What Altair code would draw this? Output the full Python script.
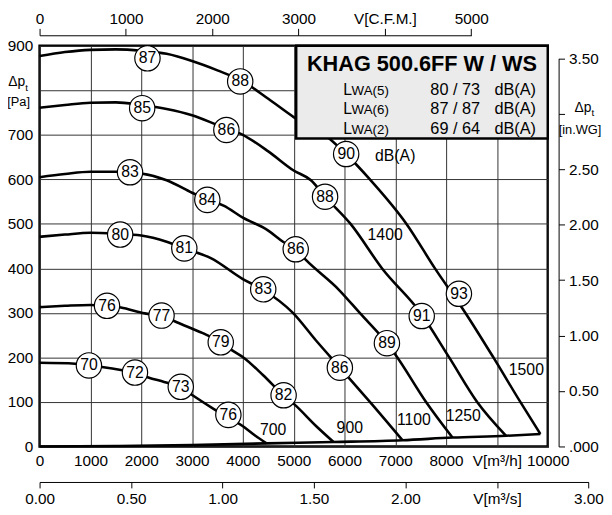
import altair as alt
import pandas as pd

FONT = "Liberation Sans"
W, H = 515, 406                 # plot area (px)
CFM_TO_M3H = 1.69901
PA_PER_INWG = 249.089

# ---------------- fan curves: V [m3/h] vs dp_t [Pa] per speed [rpm] ----------------
speeds = ["1500", "1400", "1250", "1100", "900", "700"]

q_1500 = [0, 500, 1000, 1500, 2000, 2500, 3000, 3500, 4000, 4500, 5000, 5700, 6030, 6500, 7220, 7780, 8380, 8930, 9460, 9855]
p_1500 = [877, 886, 891, 892, 889, 882, 866, 845, 820, 781, 740, 692, 657, 600, 500, 400, 300, 200, 100, 28]

q_1400 = [0, 500, 1000, 1500, 2000, 2500, 3000, 3500, 4000, 4500, 5000, 5340, 5620, 6120, 6740, 7500, 8060, 8610, 9180]
p_1400 = [761, 767, 772, 773, 767, 758, 744, 722, 700, 663, 620, 598, 561, 500, 400, 300, 200, 100, 24]

q_1250 = [0, 500, 1000, 1500, 2000, 2500, 3000, 3300, 3620, 4000, 4500, 4790, 5040, 5240, 5890, 6300, 6835, 7010, 7605, 8125]
p_1250 = [605, 612, 617, 617, 613, 598, 570, 554, 541, 514, 485, 460, 443, 419, 352, 300, 232, 205, 100, 20]

q_1100 = [0, 500, 1000, 1500, 2000, 2500, 2850, 3370, 4000, 4400, 4985, 5440, 5910, 6500, 7140]
p_1100 = [471, 476, 480, 478, 474, 460, 445, 423, 376, 352, 300, 238, 177, 100, 14]

q_900 = [0, 500, 1000, 1600, 2070, 2400, 2700, 3200, 3570, 3790, 4010, 4400, 4800, 5020, 5440, 5785]
p_900 = [313, 316, 318, 312, 299, 294, 279, 255, 234, 216, 200, 160, 115, 94, 46, 10]

q_700 = [0, 700, 970, 1260, 1600, 1880, 2140, 2450, 2780, 3010, 3430, 3980, 4200, 4466]
p_700 = [188, 186, 182, 178, 172, 166, 155, 145, 133, 115, 84, 47, 28, 7]

# lower limit line joining the curve ends
q_limit = [0, 1500, 3000, 4466, 5785, 7140, 8125, 9180, 9855]
p_limit = [0, 1, 3, 7, 10, 14, 20, 24, 28]

# ---------------- sound power markers (dB(A)) ----------------
dbq_1500 = [2123, 3948, 6033, 8252]; dbp_1500 = [872, 820, 657, 343]; db_1500 = ["87", "88", "90", "93"]
dbq_1400 = [2019, 3676, 5618, 7520]; dbp_1400 = [760, 711, 561, 293]; db_1400 = ["85", "86", "88", "91"]
dbq_1250 = [1780, 3301, 5040, 6835]; dbp_1250 = [616, 554, 443, 232]; db_1250 = ["83", "84", "86", "89"]
dbq_1100 = [1586, 2848, 4401, 5909]; dbp_1100 = [476, 445, 353, 177]; db_1100 = ["80", "81", "83", "86"]
dbq_900 = [1327, 2400, 3565, 4802]; dbp_900 = [316, 294, 234, 115]; db_900 = ["76", "77", "79", "82"]
dbq_700 = [971, 1877, 2778, 3715]; dbp_700 = [182, 166, 134, 71]; db_700 = ["70", "72", "73", "76"]

# rpm labels
rpm_q = [9579, 6800, 8336, 7366, 6104, 4596]
rpm_p = [171, 474, 69, 60, 42, 36]

# info box
box_title = "KHAG 500.6FF W / WS"
box_sym = ["WA(5)", "WA(6)", "WA(2)"]
box_val = ["80 / 73", "87 / 87", "69 / 64"]
box_unit = "dB(A)"

# secondary axis ticks
cfm_ticks = [0, 1000, 2000, 3000, 4000, 5000]
m3s_ticks = [0, 0.5, 1.0, 1.5, 2.0, 2.5, 3.0]
inwg_ticks = [0, 0.5, 1.0, 1.5, 2.0, 2.5, 3.0, 3.5]

# ---------------- tables ----------------
curve_q = [q_1500, q_1400, q_1250, q_1100, q_900, q_700]
curve_p = [p_1500, p_1400, p_1250, p_1100, p_900, p_700]
rows = []
for s, qs, ps in zip(speeds, curve_q, curve_p):
    for i, (a, b) in enumerate(zip(qs, ps)):
        rows.append({"rpm": s, "i": i, "q": a, "p": b})
for i, (a, b) in enumerate(zip(q_limit, p_limit)):
    rows.append({"rpm": "limit", "i": i, "q": a, "p": b})
curves = pd.DataFrame(rows)

dq = [dbq_1500, dbq_1400, dbq_1250, dbq_1100, dbq_900, dbq_700]
dp = [dbp_1500, dbp_1400, dbp_1250, dbp_1100, dbp_900, dbp_700]
dl = [db_1500, db_1400, db_1250, db_1100, db_900, db_700]
mrows = []
for qs, ps, ls in zip(dq, dp, dl):
    for a, b, c in zip(qs, ps, ls):
        mrows.append({"q": a, "p": b, "t": c})
markers = pd.DataFrame(mrows)

rpm_df = pd.DataFrame({"q": rpm_q, "p": rpm_p, "t": speeds})

box_df = pd.DataFrame({"q": [5050], "q2": [10000], "p": [692], "p2": [900]})
title_df = pd.DataFrame({"q": [7525], "p": [858], "t": [box_title]})
row_p = [789, 746, 702]
l_df = pd.DataFrame({"q": [5975] * 3, "p": row_p, "t": ["L"] * 3})
sym_df = pd.DataFrame({"q": [6140] * 3, "p": row_p, "t": box_sym})
val_df = pd.DataFrame({"q": [7690] * 3, "p": row_p, "t": box_val})
unit_df = pd.DataFrame({"q": [8950] * 3, "p": row_p, "t": [box_unit] * 3})
dba_df = pd.DataFrame({"q": [6602], "p": [652], "t": ["dB(A)"]})

# axis titles drawn as text (positions in data units)
dp_df = pd.DataFrame({"q": [-285, 10860], "p": [818, 760], "t": ["Δp", "Δp"]})
sub_df = pd.DataFrame({"q": [-283, 10862], "p": [806, 748], "t": ["t", "t"]})
unitax_df = pd.DataFrame({"q": [-414, 10635], "p": [774, 711], "t": ["[Pa]", "[in.WG]"]})

# ---------------- scales / axes ----------------
xs = alt.Scale(domain=[0, 10000], nice=False, zero=False)
ys = alt.Scale(domain=[0, 900], nice=False, zero=False)
common = dict(labelFont=FONT, labelFontSize=15.5, labelColor="black", labelFlush=False,
              labelOverlap=False, title=None)
x_axis = alt.Axis(values=list(range(0, 10001, 1000)), format="d",
                  labelExpr="datum.value == 9000 ? 'V[m³/h]' : datum.label",
                  grid=True, gridColor="#333", gridWidth=1, ticks=False, domain=False,
                  labelPadding=7, **common)
y_axis = alt.Axis(values=list(range(0, 901, 100)), format="d",
                  labelExpr="datum.value == 800 ? '' : datum.label",
                  grid=True, gridColor="#333", gridWidth=1, ticks=False, domain=False,
                  labelPadding=7, **common)
X = alt.X("q:Q", scale=xs, axis=x_axis)
Y = alt.Y("p:Q", scale=ys, axis=y_axis)

base_txt = dict(font=FONT, color="black")

lines = alt.Chart(curves).mark_line(color="black", strokeWidth=2.6, interpolate="monotone").encode(
    x=X, y=Y, detail="rpm:N", order="i:Q")
box = alt.Chart(box_df).mark_rect(fill="#ebebeb", stroke="black", strokeWidth=2.5).encode(
    x=X, x2=alt.X2("q2"), y=Y, y2=alt.Y2("p2"))
title_t = alt.Chart(title_df).mark_text(fontSize=22, fontWeight="bold", align="center", baseline="middle", **base_txt).encode(x=X, y=Y, text="t:N")
l_t = alt.Chart(l_df).mark_text(fontSize=16, align="left", baseline="alphabetic", **base_txt).encode(x=X, y=Y, text="t:N")
sym_t = alt.Chart(sym_df).mark_text(fontSize=13.5, align="left", baseline="alphabetic", **base_txt).encode(x=X, y=Y, text="t:N")
val_t = alt.Chart(val_df).mark_text(fontSize=16.5, align="left", baseline="alphabetic", **base_txt).encode(x=X, y=Y, text="t:N")
unit_t = alt.Chart(unit_df).mark_text(fontSize=16.5, align="left", baseline="alphabetic", **base_txt).encode(x=X, y=Y, text="t:N")
circles = alt.Chart(markers).mark_circle(color="white", opacity=1, stroke="black", strokeWidth=1.2, size=660).encode(x=X, y=Y)
circle_t = alt.Chart(markers).mark_text(fontSize=16, align="center", baseline="middle", **base_txt).encode(x=X, y=Y, text="t:N")
rpm_t = alt.Chart(rpm_df).mark_text(fontSize=16, align="center", baseline="middle", **base_txt).encode(x=X, y=Y, text="t:N")
dba_t = alt.Chart(dba_df).mark_text(fontSize=16, align="left", baseline="middle", **base_txt).encode(x=X, y=Y, text="t:N")
dp_t = alt.Chart(dp_df).mark_text(fontSize=14, align="right", baseline="middle", **base_txt).encode(x=X, y=Y, text="t:N")
sub_t = alt.Chart(sub_df).mark_text(fontSize=10, align="left", baseline="middle", **base_txt).encode(x=X, y=Y, text="t:N")
unitax_t = alt.Chart(unitax_df).mark_text(fontSize=13, align="center", baseline="middle", **base_txt).encode(x=X, y=Y, text="t:N")

main = alt.layer(lines, box, title_t, l_t, sym_t, val_t, unit_t, circles, circle_t,
                 rpm_t, dba_t, dp_t, sub_t, unitax_t)

sec = dict(labelFont=FONT, labelFontSize=15.5, labelColor="black", labelFlush=False,
           labelOverlap=False, title=None, grid=False, domain=True, domainColor="black",
           domainWidth=1, ticks=True, tickColor="black", tickWidth=1)

cfm_layer = alt.Chart(pd.DataFrame({"cfm": cfm_ticks})).mark_point(opacity=0).encode(
    x=alt.X("cfm:Q",
            scale=alt.Scale(domain=[0, 5000], nice=False, range=[0, W * 5000 * CFM_TO_M3H / 10000]),
            axis=alt.Axis(orient="top", values=cfm_ticks, format="d", offset=10.7, tickSize=7,
                          labelPadding=2,
                          labelExpr="datum.value == 4000 ? 'V[C.F.M.]' : datum.label", **sec)))

m3s_layer = alt.Chart(pd.DataFrame({"m3s": m3s_ticks})).mark_point(opacity=0).encode(
    x=alt.X("m3s:Q",
            scale=alt.Scale(domain=[0, 3], nice=False, range=[0, W * 3 * 3600 / 10000]),
            axis=alt.Axis(orient="bottom", values=m3s_ticks, format=".2f", offset=36, tickSize=6,
                          labelPadding=3.5,
                          labelExpr="datum.value == 2.5 ? 'V[m³/s]' : datum.label", **sec)))

inwg_layer = alt.Chart(pd.DataFrame({"inwg": inwg_ticks})).mark_point(opacity=0).encode(
    y=alt.Y("inwg:Q",
            scale=alt.Scale(domain=[0, 3.5], nice=False, range=[H, H - 3.5 * PA_PER_INWG * H / 900]),
            axis=alt.Axis(orient="right", values=inwg_ticks, offset=11, tickSize=6, labelPadding=4,
                          labelExpr="datum.value == 0 ? '.000' : (datum.value == 3 ? '' : format(datum.value, '.2f'))",
                          **sec)))

chart = alt.layer(main, cfm_layer, m3s_layer, inwg_layer).resolve_scale(
    x="independent", y="independent"
).properties(
    width=W, height=H,
    autosize=alt.AutoSizeParams(type="none"),
    padding={"left": 32, "top": 35, "right": 57, "bottom": 58},
    background="white",
).configure_view(stroke="black", strokeWidth=2.5)

chart.save("out.html", embed_options={"renderer": "svg", "actions": False})
